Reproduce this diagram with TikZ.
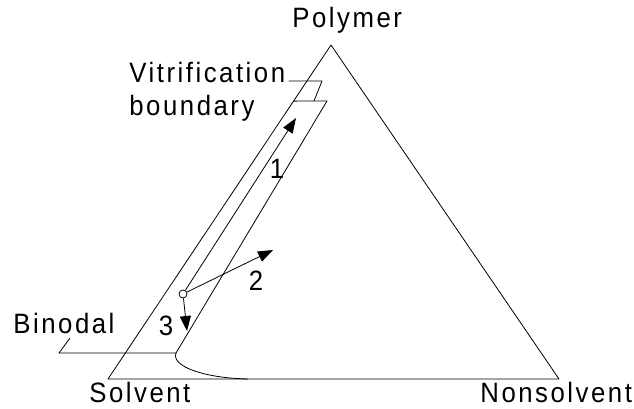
\documentclass[tikz,border=0pt]{standalone}
\usepackage{fontspec}
\setmainfont{Liberation Sans}[LetterSpace=9,FakeStretch=0.92]
\usetikzlibrary{arrows.meta,calc}

\begin{document}
\begin{tikzpicture}[x=1pt,y=-1pt,>={Triangle[length=15pt,width=11pt]},
    line join=round,line width=0.8pt,font=\fontsize{28}{32}\selectfont,
    lbl/.style={inner sep=0pt,anchor=base west},
    num/.style={inner sep=0pt,anchor=base}]
    \useasboundingbox (0,0) rectangle (634,409);
    % corners of the ternary diagram
    \coordinate (S) at (108,379);
    \coordinate (N) at (559,379);
    \coordinate (P) at (331,45);
    \draw (S) -- (N) -- (P) -- cycle;
    \node[lbl] (pol) at (292,28) {Polymer};
    \node[lbl] (sol) at (89,402) {Solvent};
    \node[lbl] (non) at (480,402) {Nonsolvent};
    % vitrification boundary and binodal
    \coordinate (V1) at ($(S)!0.832!(P)$);
    \coordinate (V2) at (327,101);
    \coordinate (B1) at (176,353);
    \coordinate (B2) at (248,379);
    \draw (V1) -- (V2) -- (B1) .. controls (171,366) and (203,378) .. (B2);
    % labels with leaders
    \node[lbl] (vit) at (129,83) {Vitrification};
    \node[lbl] (bnd) at (129,116) {boundary};
    \coordinate (vk) at (322,81);
    \coordinate (vf) at (314,101);
    \draw ([shift={(3,-2)}]vit.base east) -- (vk) -- (vf);
    \node[lbl] (bin) at (13,333) {Binodal};
    \coordinate (bk) at (59,353);
    \draw ([shift={(57,5)}]bin.base west) -- (bk) -- (B1);
    % composition paths from the initial point
    \node[circle,draw,inner sep=0pt,minimum size=8pt] (x0) at (183,294) {};
    \coordinate (t1) at (296,118);
    \coordinate (t2) at (273,250);
    \coordinate (t3) at (187,331);
    \draw[->] (x0) -- (t1);
    \draw[->] (x0) -- (t2);
    \draw[->] (x0) -- (t3);
    \node[num] (n1) at (277,178) {1};
    \node[num] (n2) at (256,290) {2};
    \node[num] (n3) at (166,335) {3};
\end{tikzpicture}
\end{document}
